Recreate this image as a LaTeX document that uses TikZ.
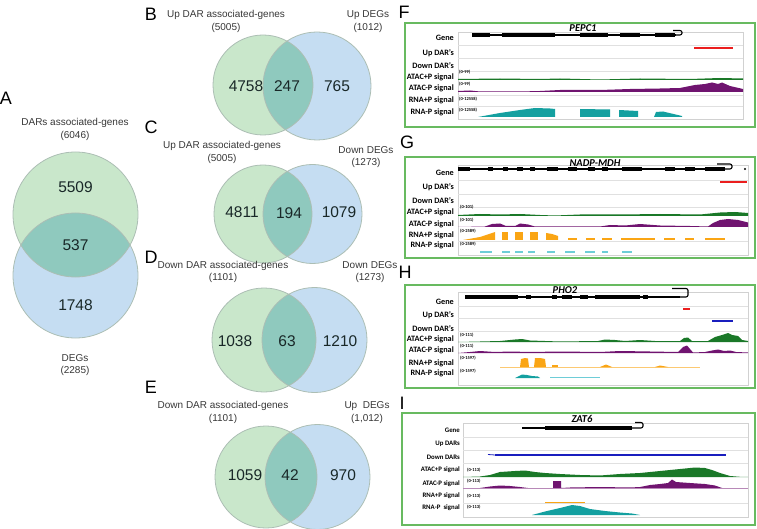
\documentclass[tikz,border=0pt]{standalone}
\usepackage{fontspec}
\setmainfont{Liberation Sans}
\newfontfamily\carlito{Carlito}
\usepackage{tikz}

\definecolor{darfill}{RGB}{201,231,203}
\definecolor{degfill}{RGB}{197,221,242}
\definecolor{bothfill}{RGB}{143,201,190}
\definecolor{vennline}{RGB}{172,190,180}
\definecolor{labcol}{RGB}{55,55,55}
\definecolor{numcol}{RGB}{25,40,40}
\definecolor{framegreen}{RGB}{104,186,96}
\definecolor{atacplus}{RGB}{26,120,40}
\definecolor{atacminus}{RGB}{112,20,112}
\definecolor{rnaplus}{RGB}{250,165,20}
\definecolor{rnaminus}{RGB}{20,160,160}
\definecolor{rnalight}{RGB}{110,205,215}
\definecolor{updar}{RGB}{235,30,30}
\definecolor{downdar}{RGB}{25,30,190}

\tikzset{
  dar/.style={circle, fill=darfill, inner sep=0pt},
  deg/.style={circle, fill=degfill, inner sep=0pt},
  count/.style={font=\fontsize{15.5}{16}\selectfont, text=numcol},
  setname/.style={font=\fontsize{10}{12.5}\selectfont, text=labcol, align=center},
  panel/.style={font=\fontsize{18}{18}\selectfont},
  frame/.style={draw=framegreen, line width=1.3pt},
  trackbox/.style={draw=black!18, line width=0.4pt},
  sepline/.style={draw=black!12, line width=0.4pt},
  rowlab/.style={font=\carlito\bfseries\fontsize{8.2}{9}\selectfont, anchor=east, inner sep=0pt},
  smalllab/.style={font=\carlito\bfseries\fontsize{6.8}{7}\selectfont, anchor=east, inner sep=0pt},
  scalelab/.style={font=\carlito\bfseries\fontsize{4.5}{5}\selectfont, anchor=west, inner sep=0pt},
  genename/.style={font=\carlito\bfseries\itshape\fontsize{10.5}{11}\selectfont, inner sep=0pt},
  gene/.style={line width=1.1pt},
  dartrack/.style={line width=2pt},
}

\begin{document}
\begin{tikzpicture}[x=1pt, y=-1pt]
  \useasboundingbox (0,0) rectangle (757,529);

  % Venn panels A-E
  \foreach \s/\gx/\gy/\gr/\bx/\by/\br in {A/75.5/214.5/62.5/75.5/275.5/62.5,
      B/263/85/50/317/86/54, C/263/214/49/312.5/214/49.5,
      D/264/340/52/314.5/340/52.5, E/266/477/51/317.5/477/52.5} {
    \node[dar, minimum size=2*\gr pt] (dar\s) at (\gx,\gy) {};
    \node[deg, minimum size=2*\br pt] (deg\s) at (\bx,\by) {};
    \begin{scope}
      \clip (dar\s.center) circle[radius=\gr pt];
      \fill[bothfill] (deg\s.center) circle[radius=\br pt];
    \end{scope}
    \draw[vennline, line width=0.8pt] (dar\s.center) circle[radius=\gr pt]
      (deg\s.center) circle[radius=\br pt];
  }

  \node[panel] (pA) at (6,98) {A};
  \node[panel] (pB) at (151,14) {B};
  \node[panel] (pC) at (151,127) {C};
  \node[panel] (pD) at (151,257) {D};
  \node[panel] (pE) at (151,387) {E};

  \node[setname] (sA1) at (75,129.5) {DARs associated-genes\\(6046)};
  \node[setname] (sA2) at (75,365) {DEGs\\(2285)};
  \node[setname] (sB1) at (226,21.5) {Up DAR associated-genes\\(5005)};
  \node[setname] (sB2) at (368,21.5) {Up DEGs\\(1012)};
  \node[setname] (sC1) at (222,152.5) {Up DAR associated-genes\\(5005)};
  \node[setname] (sC2) at (366,157) {Down DEGs\\(1273)};
  \node[setname] (sD1) at (223,272) {Down DAR associated-genes\\(1101)};
  \node[setname] (sD2) at (370,272) {Down DEGs\\(1273)};
  \node[setname] (sE1) at (223,412.5) {Down DAR associated-genes\\(1101)};
  \node[setname] (sE2) at (367,412.5) {Up\ \ DEGs\\(1,012)};

  \node[count] (nA1) at (75.5,187) {5509};
  \node[count] (nA2) at (75.5,245) {537};
  \node[count] (nA3) at (75.5,305) {1748};
  \node[count] (nB1) at (246,86) {4758};
  \node[count] (nB2) at (287,86) {247};
  \node[count] (nB3) at (337,86) {765};
  \node[count] (nC1) at (242,212) {4811};
  \node[count] (nC2) at (289,213) {194};
  \node[count] (nC3) at (339,212) {1079};
  \node[count] (nD1) at (235,341) {1038};
  \node[count] (nD2) at (287,341) {63};
  \node[count] (nD3) at (340,341) {1210};
  \node[count] (nE1) at (245,475) {1059};
  \node[count] (nE2) at (290,475) {42};
  \node[count] (nE3) at (343,475) {970};

  % F: PEPC1
  \node[panel] (pF) at (404,12) {F};
  \draw[frame] (405,23) rectangle (755,127);
  \draw[trackbox] (458,32) rectangle (743,119);
  \foreach \y in {45,58,71,95,106}
    \draw[sepline] (458,\y) -- (743,\y);
  \foreach \t/\y [count=\i] in {Gene/38, Up DAR’s/53, Down DAR’s/66, ATAC+P signal/77,
      ATAC-P signal/88, RNA+P signal/100, RNA-P signal/112}
    \node[rowlab] (F\i) at (454,\y) {\t};
  \foreach \t/\y [count=\i] in {{(0-99)}/72, {(0-99)}/84, {(0-12558)}/99, {(0-12558)}/110}
    \node[scalelab] (Fr\i) at (459,\y) {\t};
  \node[genename] (tF) at (583,28) {PEPC1};
  \draw[gene] (472,35) -- (676,35);
  \foreach \a/\b in {472/490, 502/555, 580/608, 620/640, 655/675}
    \fill (\a,33.2) rectangle (\b,36.8);
  \draw[gene, rounded corners=2pt] (673,30.5) -- (682,30.5) -- (682,35) -- (676,35);
  \draw[updar, dartrack] (694,48) -- (733,48);
  \fill[atacplus] (458,80) -- (458,79) -- (500,78.5) -- (540,79) -- (560,78.5) -- (600,79.5)
    -- (640,78.5) -- (690,79) -- (720,78) -- (743,78.5) -- (743,80) -- cycle;
  \fill[atacminus] (458,92) -- (458,91) -- (470,90.5) -- (480,91.5) -- (520,91.5) -- (540,91)
    -- (560,90) -- (600,90) -- (630,89) -- (660,88.5) -- (680,88) -- (695,85) -- (705,84)
    -- (712,82.5) -- (718,84) -- (722,82.5) -- (730,86) -- (743,89) -- (743,92) -- cycle;
  \fill[rnaminus] (478,117) -- (500,113) -- (520,110) -- (535,108) -- (550,108.5) -- (555,109)
    -- (555,117) -- cycle;
  \fill[rnaminus] (580,117) -- (580,109) -- (610,109.5) -- (610,117) -- cycle;
  \fill[rnaminus] (619,117) -- (619,110) -- (638,111) -- (638,117) -- cycle;
  \fill[rnaminus] (654,117) -- (656,112) -- (663,111.5) -- (682,116) -- (682,117) -- cycle;

  % G: NADP-MDH
  \node[panel] (pG) at (407,142) {G};
  \draw[frame] (405,157) rectangle (755,258);
  \draw[trackbox] (458,165) rectangle (748,255);
  \foreach \y in {180,194,207,241}
    \draw[sepline] (458,\y) -- (748,\y);
  \foreach \t/\y [count=\i] in {Gene/173, Up DAR’s/187, Down DAR’s/201, ATAC+P signal/212,
      ATAC-P signal/224, RNA+P signal/235, RNA-P signal/245}
    \node[rowlab] (G\i) at (454,\y) {\t};
  \foreach \t/\y [count=\i] in {{(0-101)}/207, {(0-101)}/220, {(0-2589)}/231, {(0-2589)}/244}
    \node[scalelab] (Gr\i) at (460,\y) {\t};
  \node[genename] (tG) at (595,163) {NADP-MDH};
  \draw[gene] (458,169) -- (723,169);
  \foreach \a/\b in {458/470, 488/493, 503/508, 517/523, 530/535, 547/558, 568/577,
      588/595, 602/608, 622/642, 665/675, 685/695, 705/725}
    \fill (\a,167) rectangle (\b,171);
  \draw[gene, rounded corners=2pt] (717,164) -- (732,164) -- (732,169) -- (723,169);
  \fill (745,169) circle[radius=1.2pt];
  \draw[updar, dartrack] (720,182) -- (747,182);
  \fill[atacplus] (458,216) -- (458,215) -- (480,214) -- (500,214.5) -- (520,214) -- (540,215)
    -- (555,215.5) -- (580,214.5) -- (620,214.5) -- (660,214) -- (700,214.5) -- (720,212.5)
    -- (735,212) -- (748,213) -- (748,216) -- cycle;
  \fill[atacminus] (458,227) -- (485,226.5) -- (492,224) -- (500,223.5) -- (506,226)
    -- (515,226) -- (520,223.5) -- (528,224.5) -- (535,226.5) -- (600,226.5) -- (610,225)
    -- (625,225.5) -- (640,224) -- (660,225.5) -- (690,226) -- (708,226.5) -- (713,223)
    -- (720,220) -- (728,219) -- (738,220) -- (748,222.5) -- (748,227) -- cycle;
  \fill[rnaplus] (463,240) -- (480,237) -- (495,232) -- (495,240) -- cycle;
  \foreach \a/\b in {502/508, 515/523, 530/538}
    \fill[rnaplus] (\a,240) rectangle (\b,232);
  \fill[rnaplus] (546,240) -- (546,233) -- (552,234) -- (558,236) -- (558,240) -- cycle;
  \foreach \a/\b in {568/577, 586/595, 602/612, 621/655, 664/675, 685/694, 705/725}
    \fill[rnaplus] (\a,240) rectangle (\b,238.5);
  \foreach \a/\b in {480/492, 502/510, 515/523, 528/535, 547/555, 565/575, 585/595,
      602/608, 622/632}
    \fill[rnalight] (\a,252.8) rectangle (\b,250.8);

  % H: PHO2
  \node[panel] (pH) at (405,272) {H};
  \draw[frame] (405,285) rectangle (755,388);
  \draw[trackbox] (458,292) rectangle (748,385);
  \foreach \y in {306,318,331}
    \draw[sepline] (458,\y) -- (748,\y);
  \foreach \t/\y [count=\i] in {Gene/302, Up DAR’s/315, Down DAR’s/329, ATAC+P signal/339,
      ATAC-P signal/350, RNA+P signal/363, RNA-P signal/373}
    \node[rowlab] (H\i) at (454,\y) {\t};
  \foreach \t/\y [count=\i] in {{(0-111)}/335, {(0-111)}/346, {(0-1597)}/358, {(0-1597)}/371}
    \node[scalelab] (Hr\i) at (460,\y) {\t};
  \node[genename] (tH) at (565,290) {PHO2};
  \draw[gene] (465,297) -- (680,297);
  \foreach \a/\b in {465/518, 526/531, 552/557, 562/572, 580/588, 595/640, 643/648}
    \fill (\a,295) rectangle (\b,299);
  \draw[gene, rounded corners=2pt] (672,288.5) -- (688,288.5) -- (688,297) -- (678,297);
  \draw[updar, dartrack] (683,309) -- (690,309);
  \draw[downdar, dartrack] (712,321) -- (733,321);
  \fill[atacplus] (458,342) -- (480,341.5) -- (500,341) -- (515,339.5) -- (522,339) -- (530,340.5)
    -- (560,341.5) -- (598,341) -- (605,339.5) -- (615,340) -- (625,341) -- (640,340)
    -- (655,341) -- (680,341) -- (684,338) -- (688,337.5) -- (692,341) -- (708,341) -- (715,337)
    -- (722,335) -- (728,333) -- (732,335) -- (738,336) -- (742,340) -- (748,341)
    -- (748,342) -- cycle;
  \fill[atacminus] (458,353) -- (470,352) -- (480,351) -- (495,352) -- (510,351.5) -- (530,352)
    -- (560,351.5) -- (600,352) -- (620,351) -- (650,351.5) -- (678,352) -- (683,347)
    -- (687,345.5) -- (690,349) -- (693,352.5) -- (705,352) -- (712,350.5) -- (718,349.5)
    -- (724,351) -- (730,350.5) -- (736,352) -- (748,352.5) -- (748,353) -- cycle;
  \draw[rnaplus!60, line width=0.4pt] (500,367) -- (700,367);
  \fill[rnaplus] (520,367) -- (521,359) -- (525,358) -- (528,358.5) -- (529,367) -- cycle;
  \fill[rnaplus] (534,367) -- (535,358) -- (540,358) -- (545,359) -- (546,367) -- cycle;
  \fill[rnaplus] (552,367) rectangle (558,365);
  \fill[rnaplus] (600,367) -- (606,364.5) -- (612,367) -- cycle;
  \fill[rnaplus] (655,367) -- (660,365.5) -- (668,367) -- cycle;
  \fill[rnaminus] (515,378) -- (522,374.5) -- (527,375) -- (532,376) -- (538,376.5)
    -- (540,378) -- cycle;
  \fill[rnalight] (550,378) rectangle (600,377);

  % I: ZAT6
  \node[panel] (pI) at (402,403) {I};
  \draw[frame] (402,413) rectangle (755,525);
  \draw[trackbox] (463,423) rectangle (748,517);
  \foreach \y in {437,450,463,503}
    \draw[sepline] (463,\y) -- (748,\y);
  \foreach \t/\y [count=\i] in {Gene/430, Up DARs/444, Down DARs/457, ATAC+P signal/470,
      ATAC-P signal/484, RNA+P signal/496, RNA-P\ \ signal/508}
    \node[smalllab] (I\i) at (460,\y) {\t};
  \foreach \t/\y [count=\i] in {{(0-113)}/470, {(0-113)}/481, {(0-113)}/496, {(0-113)}/507}
    \node[scalelab] (Ir\i) at (467,\y) {\t};
  \node[genename] (tI) at (582,419) {ZAT6};
  \draw[gene] (522,428) -- (632,428);
  \fill (545,426.3) rectangle (632,429.7);
  \draw[gene, rounded corners=2pt] (635,422.5) -- (643,422.5) -- (643,428) -- (632,428);
  \draw[downdar, line width=0.8pt] (488,454.5) -- (495,455);
  \draw[downdar, dartrack] (495,455) -- (726,455);
  \fill[atacplus] (463,477) -- (480,476.5) -- (490,475) -- (500,472) -- (515,471) -- (525,470.5)
    -- (535,472) -- (545,473) -- (560,474) -- (580,475) -- (600,475.5) -- (620,474)
    -- (640,473) -- (660,471) -- (680,469) -- (695,467.5) -- (705,468) -- (712,470)
    -- (720,473) -- (730,476) -- (740,476.8) -- (748,477) -- cycle;
  \fill[atacminus] (463,488) -- (480,488) -- (490,486.5) -- (500,485.5) -- (510,486) -- (520,487)
    -- (528,488) -- (553,488) -- (553,481) -- (561,481) -- (561,488) -- (570,487.5)
    -- (600,487) -- (630,487.5) -- (640,487) -- (650,485) -- (660,484) -- (668,483)
    -- (672,479.5) -- (676,482) -- (690,483) -- (705,484) -- (715,485.5) -- (722,488)
    -- (748,488) -- cycle;
  \draw[atacminus!50, line width=0.5pt] (463,488) -- (748,488);
  \draw[rnaplus, line width=0.6pt] (545,502) -- (585,502);
  \fill[rnaminus] (532,515) -- (545,511.5) -- (560,508) -- (572,505) -- (580,506) -- (590,509)
    -- (605,511) -- (620,512.5) -- (632,513.5) -- (640,515) -- cycle;
\end{tikzpicture}
\end{document}
